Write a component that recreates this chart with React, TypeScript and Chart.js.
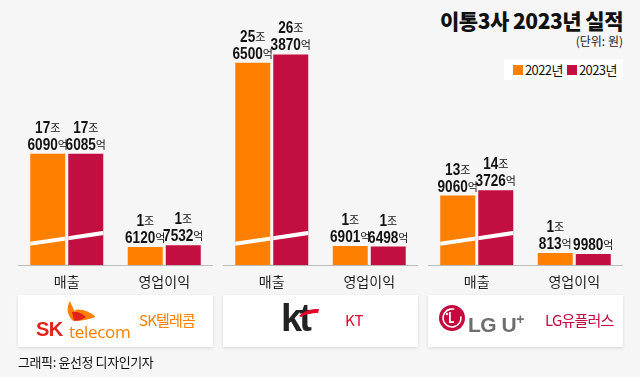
import React, { useEffect, useRef } from "react";
import { Chart, registerables } from "chart.js";

Chart.register(...registerables);

// ---- data (values in 억원) ----
const companies = ["SK텔레콤", "KT", "LG유플러스"];
const categories = ["매출", "영업이익"];
const seriesNames = ["2022년", "2023년"];
const sales2022 = [176090, 256500, 139060];
const sales2023 = [176085, 263870, 143726];
const profit2022 = [16120, 16901, 10813];
const profit2023 = [17532, 16498, 9980];

// broken axis: part of the 매출 bars that is cut away (억원)
const SALES_AXIS_CUT = 77500;
const BREAK_FROM = 1.9; // 조 (left end of the break mark)
const BREAK_TO = 2.85; // 조 (right end of the break mark)
const Y_MAX = 20; // 조

const COLORS = ["#FF7F00", "#C20E40"];
const BG = "#F6F6F6";
const KR = "'Noto Sans CJK KR', 'Noto Sans', sans-serif";
const NUM = "'Liberation Sans', Arial, sans-serif";
const NUM_SCALE = 0.8;

const PANEL_X = [18, 223, 428];
const PANEL_W = 195;

function splitValue(v: number): [string, string][] {
  const jo = Math.floor(v / 10000);
  const eok = v % 10000;
  const out: [string, string][] = [];
  if (jo > 0) out.push([String(jo), "조"]);
  out.push([String(eok), "억"]);
  return out;
}

const labelPlugin = {
  id: "valueLabels",
  afterDatasetsDraw(chart: any) {
    const ctx = chart.ctx;
    const yScale = chart.scales.y;
    ctx.save();
    // break marks on 매출 bars
    const m0 = chart.getDatasetMeta(0).data[0];
    const m1 = chart.getDatasetMeta(1).data[0];
    const x1 = m0.x - m0.width / 2;
    const x2 = m1.x + m1.width / 2;
    const y1 = yScale.getPixelForValue(BREAK_FROM);
    const y2 = yScale.getPixelForValue(BREAK_TO);
    const slope = (y2 - y1) / (x2 - x1);
    [m0, m1].forEach((el: any) => {
      ctx.save();
      ctx.beginPath();
      ctx.rect(el.x - el.width / 2, el.y, el.width, el.base - el.y);
      ctx.clip();
      ctx.strokeStyle = "#FFFFFF";
      ctx.lineWidth = 4;
      ctx.beginPath();
      ctx.moveTo(x1 - 2, y1 - 2 * slope);
      ctx.lineTo(x2 + 2, y2 + 2 * slope);
      ctx.stroke();
      ctx.restore();
    });
    // value labels
    chart.data.datasets.forEach((ds: any, di: number) => {
      const meta = chart.getDatasetMeta(di);
      meta.data.forEach((el: any, i: number) => {
        const lines = splitValue(ds.raw[i]);
        let baseY = el.y - 4;
        for (let li = lines.length - 1; li >= 0; li--) {
          const [num, unit] = lines[li];
          ctx.font = `bold 17px ${NUM}`;
          const wn = ctx.measureText(num).width * NUM_SCALE;
          ctx.font = `11px ${KR}`;
          const wu = ctx.measureText(unit).width;
          const start = el.x - (wn + wu) / 2;
          ctx.fillStyle = "#111111";
          ctx.textAlign = "left";
          ctx.textBaseline = "alphabetic";
          ctx.save();
          ctx.translate(start, baseY);
          ctx.scale(NUM_SCALE, 1);
          ctx.font = `bold 17px ${NUM}`;
          ctx.fillText(num, 0, 0);
          ctx.restore();
          ctx.font = `11px ${KR}`;
          ctx.fillText(unit, start + wn, baseY - 1);
          baseY -= 17;
        }
      });
    });
    ctx.restore();
  },
};

function Panel({ idx }: { idx: number }) {
  const ref = useRef<HTMLCanvasElement>(null);
  useEffect(() => {
    const raw2022 = [sales2022[idx], profit2022[idx]];
    const raw2023 = [sales2023[idx], profit2023[idx]];
    const toPlot = (r: number[]) => [(r[0] - SALES_AXIS_CUT) / 10000, r[1] / 10000];
    const chart = new Chart(ref.current as HTMLCanvasElement, {
      type: "bar",
      data: {
        labels: categories,
        datasets: [
          { label: seriesNames[0], data: toPlot(raw2022), raw: raw2022, backgroundColor: COLORS[0] } as any,
          { label: seriesNames[1], data: toPlot(raw2023), raw: raw2023, backgroundColor: COLORS[1] } as any,
        ],
      },
      options: {
        responsive: false,
        maintainAspectRatio: false,
        animation: false,
        devicePixelRatio: 1,
        layout: { padding: { top: 39, left: 0, right: 0, bottom: 0 } },
        datasets: { bar: { categoryPercentage: 0.78, barPercentage: 0.92, borderWidth: 0 } },
        plugins: { legend: { display: false }, tooltip: { enabled: false } },
        scales: {
          x: {
            grid: { display: false, drawTicks: false },
            border: { display: true, color: "#BDBDBD", width: 1 },
            ticks: { color: "#222222", font: { family: KR, size: 14 }, padding: 8 },
          },
          y: { display: false, min: 0, max: Y_MAX },
        },
      },
      plugins: [labelPlugin],
    });
    return () => chart.destroy();
  }, [idx]);
  return (
    <canvas
      ref={ref}
      width={PANEL_W}
      height={298}
      style={{ position: "absolute", left: PANEL_X[idx], top: 0, width: PANEL_W, height: 298 }}
    />
  );
}

const boxStyle = (i: number): React.CSSProperties => ({
  position: "absolute",
  left: PANEL_X[i],
  top: 295,
  width: PANEL_W,
  height: 52,
  background: "#FFFFFF",
  boxShadow: "0 1px 3px rgba(0,0,0,0.13)",
});

export default function App() {
  return (
    <div
      style={{
        position: "absolute",
        left: 0,
        top: 0,
        width: 640,
        height: 377,
        background: BG,
        overflow: "hidden",
        fontFamily: KR,
      }}
    >
      <div
        style={{
          position: "absolute",
          right: 17,
          top: 6,
          fontSize: 21,
          fontWeight: 900,
          color: "#111",
          letterSpacing: -0.5,
          lineHeight: "28px",
          whiteSpace: "nowrap",
        }}
      >
        이통3사 2023년 실적
      </div>
      <div
        style={{
          position: "absolute",
          right: 17,
          top: 33,
          fontSize: 12,
          color: "#222",
          lineHeight: "16px",
          whiteSpace: "nowrap",
        }}
      >
        (단위: 원)
      </div>
      <div
        style={{
          position: "absolute",
          left: 504,
          top: 59,
          width: 119,
          height: 21,
          background: "#FFFFFF",
        }}
      >
        {seriesNames.map((s, i) => (
          <div
            key={s}
            style={{
              position: "absolute",
              left: i === 0 ? 9 : 63,
              top: 0,
              height: 21,
              display: "flex",
              alignItems: "center",
              fontSize: 13,
              color: "#111",
              letterSpacing: -0.6,
              whiteSpace: "nowrap",
            }}
          >
            <span style={{ display: "inline-block", width: 10, height: 10, background: COLORS[i], marginRight: 2 }} />
            {s}
          </div>
        ))}
      </div>

      {[0, 1, 2].map((i) => (
        <Panel key={i} idx={i} />
      ))}

      {/* SK telecom */}
      <div style={boxStyle(0)}>
        <svg width="60" height="42" style={{ position: "absolute", left: 17, top: 5 }}>
          <path d="M35 1 C 31 8, 32 15, 38 21 L 42 15 C 39 11, 37 6, 35 1 Z" fill="#FF7F00" />
          <path d="M40 10 C 47 8, 55 12, 61 17 C 55 19, 48 21, 42 21 Z" fill="#FF7F00" />
          <path d="M37 12 C 42 11, 47 13, 51 17 C 47 20, 42 21, 39 21 Z" fill="#E2231A" />
        </svg>
        <div style={{ position: "absolute", left: 18, top: 23, fontSize: 20, fontWeight: 700, color: "#E2231A", fontFamily: "'Liberation Sans', sans-serif", letterSpacing: -0.5 }}>
          SK
        </div>
        <div style={{ position: "absolute", left: 51, top: 25, fontSize: 17, color: "#FF7F00", fontFamily: "'Open Sans', sans-serif", letterSpacing: -0.3 }}>
          telecom
        </div>
        <div style={{ position: "absolute", left: 121, top: 15, fontSize: 15, color: "#FF7F00", letterSpacing: -0.8, lineHeight: "20px" }}>
          SK텔레콤
        </div>
      </div>

      {/* KT */}
      <div style={boxStyle(1)}>
        <div style={{ position: "absolute", left: 58, top: 1, fontSize: 38, fontWeight: 700, color: "#222", fontFamily: "'Liberation Sans', sans-serif", letterSpacing: -3, lineHeight: "44px" }}>
          kt
        </div>
        <svg width="20" height="10" style={{ position: "absolute", left: 76, top: 12 }}>
          <path d="M0 9 C 6 3, 12 2, 20 2 L 19 6 C 12 6, 7 7, 2 10 Z" fill="#E4002B" />
        </svg>
        <div style={{ position: "absolute", left: 122, top: 15, fontSize: 15, color: "#E4002B", lineHeight: "20px" }}>
          KT
        </div>
      </div>

      {/* LG U+ */}
      <div style={boxStyle(2)}>
        <svg width="28" height="28" style={{ position: "absolute", left: 10, top: 9 }}>
          <circle cx="14" cy="14" r="13" fill="#C5093E" />
          <circle cx="14" cy="14" r="9" fill="none" stroke="#FFFFFF" strokeWidth="1.6" strokeDasharray="46 11" transform="rotate(-10 14 14)" />
          <rect x="11" y="8" width="1.8" height="11" fill="#FFFFFF" />
          <rect x="11" y="17.2" width="5" height="1.8" fill="#FFFFFF" />
          <circle cx="9" cy="10" r="1.3" fill="#FFFFFF" />
        </svg>
        <div style={{ position: "absolute", left: 40, top: 10, fontSize: 21, fontWeight: 700, color: "#6E6E6E", fontFamily: "'Liberation Sans', sans-serif", letterSpacing: -0.5, lineHeight: "28px", whiteSpace: "nowrap" }}>
          LG U<span style={{ fontSize: 14, verticalAlign: 8 }}>+</span>
        </div>
        <div style={{ position: "absolute", left: 117, top: 15, fontSize: 15, color: "#C5093E", letterSpacing: -0.8, lineHeight: "20px", whiteSpace: "nowrap" }}>
          LG유플러스
        </div>
      </div>

      <div style={{ position: "absolute", left: 18, top: 353, fontSize: 13, color: "#111", lineHeight: "18px", letterSpacing: -0.4 }}>
        그래픽: 윤선정 디자인기자
      </div>
    </div>
  );
}
